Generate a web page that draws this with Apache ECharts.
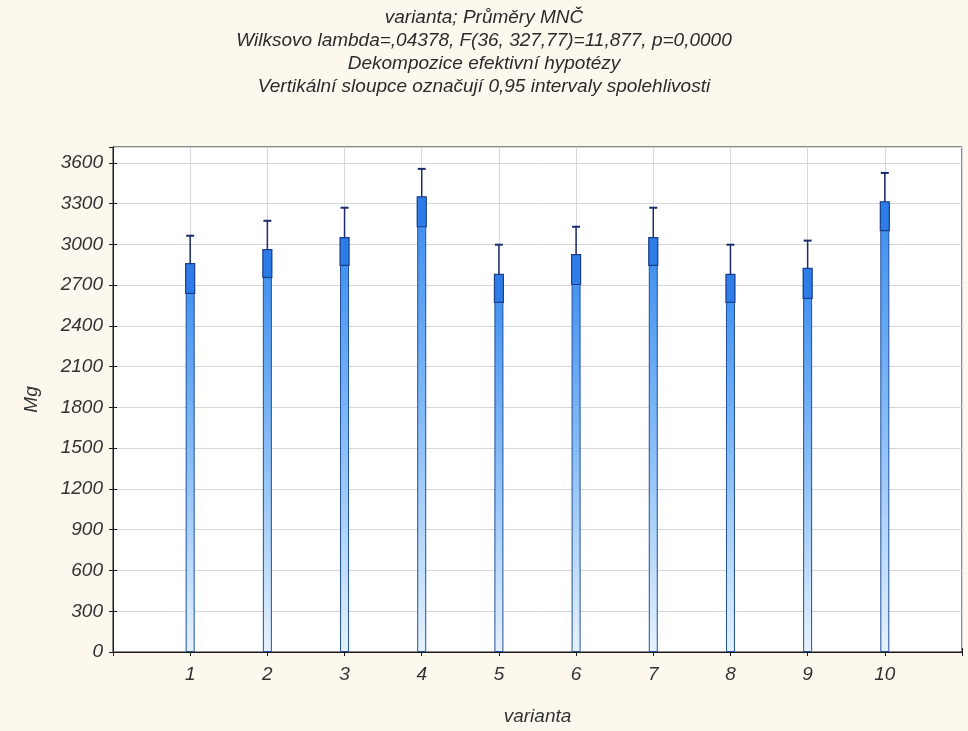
<!DOCTYPE html>
<html>
<head>
<meta charset="utf-8">
<script src="https://cdn.jsdelivr.net/npm/echarts@6/dist/echarts.min.js"></script>
<style>
  html, body { margin: 0; padding: 0; background: #fcf8ee; }
  #main { width: 968px; height: 731px; }
</style>
</head>
<body>
<div id="main"></div>
<script>
var chartDom = document.getElementById('main');
var myChart = echarts.init(chartDom);
var option;

// data
var variants = [1, 2, 3, 4, 5, 6, 7, 8, 9, 10];
var means = [2859, 2962, 3050, 3350, 2779, 2925, 3050, 2779, 2823, 3314];
var lower = [2639, 2757, 2845, 3130, 2573, 2705, 2845, 2573, 2603, 3101];
var upper = [3064, 3174, 3270, 3556, 2998, 3130, 3270, 2998, 3028, 3526];
var titleLines = [
  'varianta; Průměry MNČ',
  'Wilksovo lambda=,04378, F(36, 327,77)=11,877, p=0,0000',
  'Dekompozice efektivní hypotézy',
  'Vertikální sloupce označují 0,95 intervaly spolehlivosti'
];

var font = '"Liberation Sans", Arial, sans-serif';
var barData = variants.map(function (v, i) { return [v, means[i]]; });
var ciData = variants.map(function (v, i) { return [v, lower[i], means[i], upper[i]]; });

option = {
  backgroundColor: '#fcf8ee',
  animation: false,
  title: {
    text: titleLines.join('\n'),
    left: 'center',
    top: 1,
    textStyle: {
      fontFamily: font,
      fontStyle: 'italic',
      fontWeight: 'normal',
      fontSize: 19,
      lineHeight: 23,
      color: '#2b2b2b'
    }
  },
  grid: {
    left: 113,
    right: 6,
    top: 147,
    bottom: 77,
    show: true,
    backgroundColor: '#ffffff',
    borderColor: '#1a1a1a',
    borderWidth: 1
  },
  xAxis: [
    {
      type: 'value',
      min: 0,
      max: 11,
      interval: 1,
      name: 'varianta',
      nameLocation: 'middle',
      nameGap: 55,
      nameTextStyle: { fontFamily: font, fontStyle: 'italic', fontSize: 19, color: '#333' },
      axisLine: { show: true, lineStyle: { color: '#1a1a1a' } },
      axisTick: { show: true, inside: true, length: 4, lineStyle: { color: '#1a1a1a' } },
      axisLabel: {
        fontFamily: font, fontStyle: 'italic', fontSize: 19, color: '#333', margin: 13,
        formatter: function (v) { return (v >= 1 && v <= 10) ? String(v) : ''; }
      },
      splitLine: { show: true, lineStyle: { color: '#d6d6de', width: 1 } }
    },
    {
      type: 'value',
      position: 'top',
      min: 0,
      max: 11,
      interval: 1,
      axisLine: { show: true, lineStyle: { color: '#1a1a1a' } },
      axisTick: { show: true, inside: true, length: 4, lineStyle: { color: '#1a1a1a' } },
      axisLabel: { show: false },
      splitLine: { show: false }
    }
  ],
  yAxis: [
    {
      type: 'value',
      min: 0,
      max: 3717,
      interval: 300,
      name: 'Mg',
      nameLocation: 'middle',
      nameGap: 72,
      nameTextStyle: { fontFamily: font, fontStyle: 'italic', fontSize: 19, color: '#333' },
      axisLine: { show: true, lineStyle: { color: '#1a1a1a' } },
      axisTick: { show: true, inside: true, length: 4, lineStyle: { color: '#1a1a1a' } },
      axisLabel: {
        fontFamily: font, fontStyle: 'italic', fontSize: 19, color: '#333', margin: 10,
        showMaxLabel: false,
        formatter: function (v) { return v % 300 === 0 ? String(v) : ''; }
      },
      splitLine: { show: true, lineStyle: { color: '#d6d6d6', width: 1 } }
    },
    {
      type: 'value',
      position: 'right',
      min: 0,
      max: 3717,
      interval: 300,
      axisLine: { show: true, lineStyle: { color: '#1a1a1a' } },
      axisTick: { show: true, inside: true, length: 4, lineStyle: { color: '#1a1a1a' } },
      axisLabel: { show: false },
      splitLine: { show: false }
    }
  ],
  series: [
    {
      name: 'Mg',
      type: 'bar',
      xAxisIndex: 0,
      yAxisIndex: 0,
      barWidth: 9,
      data: barData,
      itemStyle: {
        color: new echarts.graphic.LinearGradient(0, 0, 0, 1, [
          { offset: 0, color: '#3a8cf0' },
          { offset: 0.5, color: '#88bdf6' },
          { offset: 1, color: '#e6f2fd' }
        ]),
        borderColor: '#1f4f9c',
        borderWidth: 1
      },
      z: 2
    },
    {
      name: 'CI',
      type: 'custom',
      xAxisIndex: 0,
      yAxisIndex: 0,
      data: ciData,
      z: 3,
      renderItem: function (params, api) {
        var x = api.value(0);
        var pLow = api.coord([x, api.value(1)]);
        var pMean = api.coord([x, api.value(2)]);
        var pUp = api.coord([x, api.value(3)]);
        var w = 9;
        var cap = 8;
        return {
          type: 'group',
          children: [
            {
              type: 'rect',
              shape: { x: pMean[0] - w / 2, y: pMean[1], width: w, height: pLow[1] - pMean[1] },
              style: { fill: '#2e7ce8', stroke: '#1a3f8c', lineWidth: 1.2 }
            },
            {
              type: 'line',
              shape: { x1: pMean[0], y1: pMean[1], x2: pUp[0], y2: pUp[1] },
              style: { stroke: '#1c2a6e', lineWidth: 1.5 }
            },
            {
              type: 'line',
              shape: { x1: pUp[0] - cap / 2, y1: pUp[1], x2: pUp[0] + cap / 2, y2: pUp[1] },
              style: { stroke: '#1c2a6e', lineWidth: 2 }
            }
          ]
        };
      }
    }
  ]
};

option && myChart.setOption(option);
</script>
</body>
</html>
